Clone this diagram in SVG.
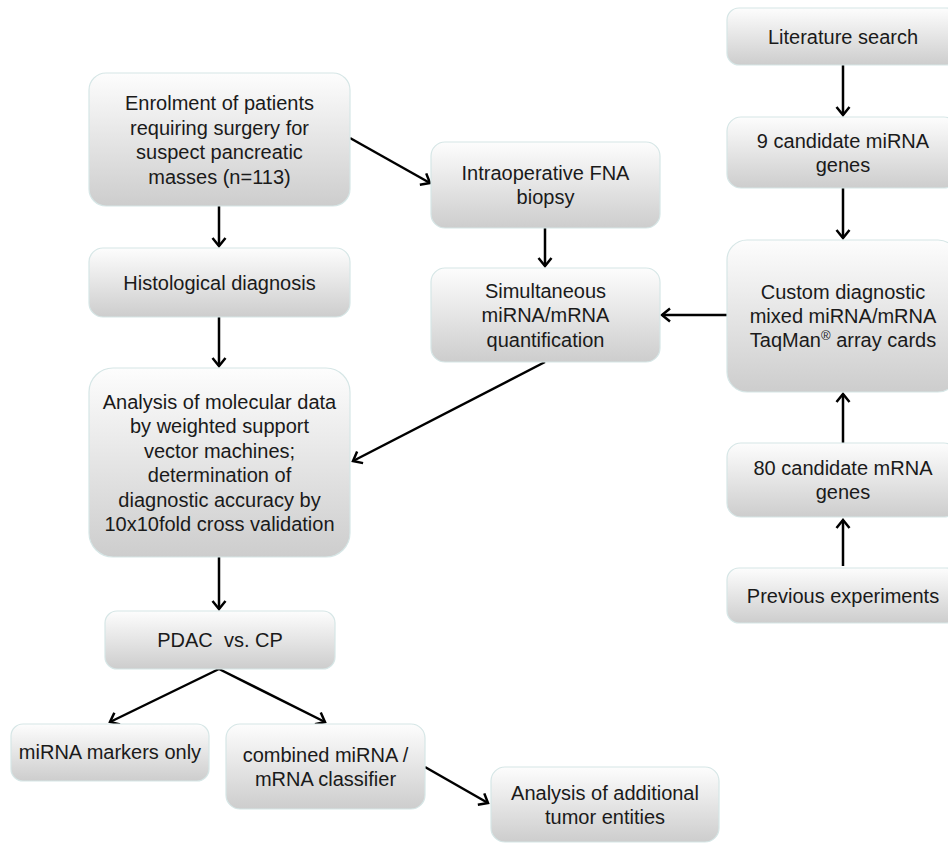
<svg xmlns="http://www.w3.org/2000/svg" width="948" height="843" viewBox="0 0 948 843">
<style>
.box{fill:url(#g);stroke:#d6e6e6;stroke-width:1.2}
.t{font-family:"Liberation Sans",Arial,sans-serif;font-size:20px;fill:#1a1a1a;text-anchor:middle}
.c{fill:none;stroke:#000;stroke-width:2.5;marker-end:url(#ah)}
</style>
<defs>
<linearGradient id="g" x1="0" y1="0" x2="0" y2="1">
<stop offset="0" stop-color="#fdfdfd"/>
<stop offset="1" stop-color="#cdcdcd"/>
</linearGradient>
<marker id="ah" markerUnits="userSpaceOnUse" markerWidth="20" markerHeight="20" viewBox="-10 -10 20 20" refX="0" refY="0" orient="auto">
<path d="M-8,-6.5 L0,0 L-8,6.5" fill="none" stroke="#000" stroke-width="2.5"/>
</marker>
</defs>
<rect width="948" height="843" fill="#fff"/>
<g id="connectors">
<line class="c" x1="350" y1="138" x2="430" y2="183"/>
<line class="c" x1="219" y1="206" x2="219" y2="246"/>
<line class="c" x1="219" y1="317" x2="219" y2="366"/>
<line class="c" x1="545" y1="228" x2="545" y2="266"/>
<line class="c" x1="727" y1="315" x2="662" y2="315"/>
<line class="c" x1="545" y1="362" x2="353" y2="461"/>
<line class="c" x1="843" y1="65" x2="843" y2="115"/>
<line class="c" x1="843" y1="188" x2="843" y2="238"/>
<line class="c" x1="843" y1="443" x2="843" y2="394"/>
<line class="c" x1="843" y1="566" x2="843" y2="520"/>
<line class="c" x1="219" y1="557" x2="219" y2="609"/>
<line class="c" x1="219" y1="669" x2="110" y2="722"/>
<line class="c" x1="219" y1="669" x2="325" y2="722"/>
<line class="c" x1="425" y1="767" x2="488" y2="803"/>
</g>
<g id="enrolment">
<rect class="box" x="89" y="73" width="261" height="133" rx="17"/>
<text class="t" x="219.5" y="110">Enrolment of patients</text>
<text class="t" x="219.5" y="134.5">requiring surgery for</text>
<text class="t" x="219.5" y="159">suspect pancreatic</text>
<text class="t" x="219.5" y="183.5">masses (n=113)</text>
</g>
<g id="fna">
<rect class="box" x="431" y="142" width="229" height="86" rx="14"/>
<text class="t" x="545.5" y="180">Intraoperative FNA</text>
<text class="t" x="545.5" y="204">biopsy</text>
</g>
<g id="simultaneous">
<rect class="box" x="431" y="268" width="229" height="94" rx="14"/>
<text class="t" x="545.5" y="297.5">Simultaneous</text>
<text class="t" x="545.5" y="322">miRNA/mRNA</text>
<text class="t" x="545.5" y="346.5">quantification</text>
</g>
<g id="literature">
<rect class="box" x="727" y="8" width="231" height="57" rx="12"/>
<text class="t" x="843" y="43.5">Literature search</text>
</g>
<g id="mirna-genes">
<rect class="box" x="727" y="117" width="231" height="71" rx="14"/>
<text class="t" x="843" y="147.5">9 candidate miRNA</text>
<text class="t" x="843" y="171.5">genes</text>
</g>
<g id="custom">
<rect class="box" x="727" y="240" width="231" height="152" rx="20"/>
<text class="t" x="843" y="298.5">Custom diagnostic</text>
<text class="t" x="843" y="322.5">mixed miRNA/mRNA</text>
<text class="t" x="843" y="346.5">TaqMan<tspan font-size="13" dy="-7">®</tspan><tspan dy="7"> array cards</tspan></text>
</g>
<g id="mrna-genes">
<rect class="box" x="727" y="443" width="231" height="74" rx="14"/>
<text class="t" x="843" y="475">80 candidate mRNA</text>
<text class="t" x="843" y="499">genes</text>
</g>
<g id="previous">
<rect class="box" x="727" y="568" width="231" height="55" rx="12"/>
<text class="t" x="843" y="602.5">Previous experiments</text>
</g>
<g id="histological">
<rect class="box" x="89" y="248" width="261" height="69" rx="14"/>
<text class="t" x="219.5" y="289.5">Histological diagnosis</text>
</g>
<g id="analysis">
<rect class="box" x="89" y="368" width="261" height="189" rx="24"/>
<text class="t" x="219.5" y="408.5">Analysis of molecular data</text>
<text class="t" x="219.5" y="433">by weighted support</text>
<text class="t" x="219.5" y="457.5">vector machines;</text>
<text class="t" x="219.5" y="482">determination of</text>
<text class="t" x="219.5" y="506.5">diagnostic accuracy by</text>
<text class="t" x="219.5" y="531">10x10fold cross validation</text>
</g>
<g id="pdac">
<rect class="box" x="105" y="611" width="230" height="58" rx="12"/>
<text class="t" x="220" y="647" xml:space="preserve">PDAC  vs. CP</text>
</g>
<g id="mirna-only">
<rect class="box" x="11" y="724" width="198" height="57" rx="12"/>
<text class="t" x="110" y="758.5">miRNA markers only</text>
</g>
<g id="combined">
<rect class="box" x="226" y="724" width="199" height="85" rx="14"/>
<text class="t" x="325.5" y="761.5">combined miRNA /</text>
<text class="t" x="325.5" y="785.5">mRNA classifier</text>
</g>
<g id="additional">
<rect class="box" x="491" y="767" width="228" height="75" rx="14"/>
<text class="t" x="605" y="800">Analysis of additional</text>
<text class="t" x="605" y="824">tumor entities</text>
</g>
</svg>
